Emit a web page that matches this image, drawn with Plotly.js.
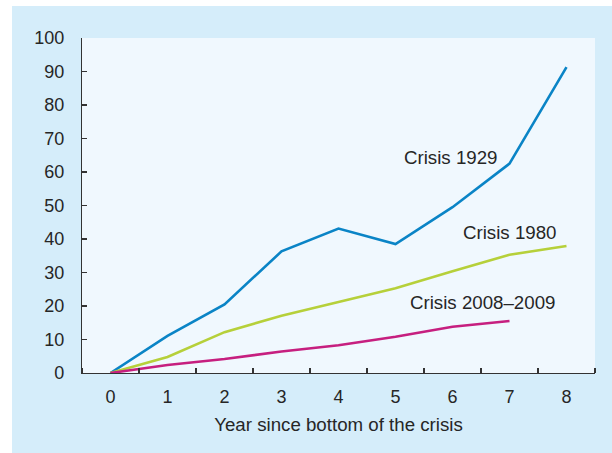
<!DOCTYPE html>
<html>
<head>
<meta charset="utf-8">
<script src="https://cdn.plot.ly/plotly-3.0.1.min.js"></script>
<style>html,body{margin:0;padding:0;background:#fff;}#chart{width:612px;height:453px;}</style>
</head>
<body>
<div id="chart"></div>
<script>
var years = [0, 1, 2, 3, 4, 5, 6, 7, 8];
var crisis1929 = [0, 11.1, 20.5, 36.3, 43.1, 38.5, 49.5, 62.5, 91.3];
var crisis1980 = [0, 4.8, 12.2, 17.1, 21.2, 25.3, 30.4, 35.3, 37.9];
var crisis2008 = [0, 2.4, 4.2, 6.4, 8.3, 10.8, 13.8, 15.5];
var seriesNames = ["Crisis 1929", "Crisis 1980", "Crisis 2008\u20132009"];
var xTitle = "Year since bottom of the crisis";

var colors = ["#0a84c6", "#b6d03a", "#c61f7f"];
var font = "Liberation Sans, Arial, sans-serif";
var textColor = "#262626";

var traces = [
  {x: years, y: crisis1929, name: seriesNames[0], mode: "lines", line: {color: colors[0], width: 2.6}},
  {x: years, y: crisis1980, name: seriesNames[1], mode: "lines", line: {color: colors[1], width: 2.6}},
  {x: years.slice(0, crisis2008.length), y: crisis2008, name: seriesNames[2], mode: "lines", line: {color: colors[2], width: 2.6}}
];

var L = 82, R = 17, T = 38, B = 80, W = 612, H = 453;
var pw = W - L - R, ph = H - T - B;
function px2x(p) { return (p - L) / pw; }
function py2y(p) { return (H - B - p) / ph; }

var layout = {
  width: W, height: H,
  margin: {l: L, r: R, t: T, b: B, pad: 0},
  paper_bgcolor: "#d5edfa",
  plot_bgcolor: "#f0f8fe",
  showlegend: false,
  font: {family: font, size: 18, color: textColor},
  xaxis: {
    range: [-0.5, 8.5],
    tickvals: years,
    ticktext: years.map(String),
    ticks: "",
    showgrid: false,
    zeroline: false,
    showline: true,
    linecolor: "#333",
    linewidth: 1.2,
    ticklabelstandoff: 7,
    tickfont: {size: 18, color: textColor},
    minor: {tick0: 0.5, dtick: 1, ticks: "inside", ticklen: 5, tickcolor: "#333", tickwidth: 1.2, showgrid: false},
    title: {text: xTitle, font: {size: 18.7, color: textColor}, standoff: 12}
  },
  yaxis: {
    range: [0, 100],
    dtick: 10,
    ticks: "inside",
    ticklen: 5,
    tickcolor: "#333",
    tickwidth: 1.2,
    showgrid: false,
    zeroline: false,
    showline: true,
    linecolor: "#333",
    linewidth: 1.2,
    ticklabelstandoff: 13,
    tickfont: {size: 18, color: textColor}
  },
  shapes: [
    {type: "rect", xref: "paper", yref: "paper", x0: px2x(-5), x1: px2x(12), y0: py2y(H + 5), y1: py2y(-5), fillcolor: "#ffffff", line: {width: 0}},
    {type: "rect", xref: "paper", yref: "paper", x0: px2x(-5), x1: px2x(W + 5), y0: py2y(6), y1: py2y(-5), fillcolor: "#ffffff", line: {width: 0}}
  ],
  annotations: [
    {x: 5.96, y: 64.2, xref: "x", yref: "y", text: seriesNames[0], showarrow: false, xanchor: "center", yanchor: "middle", font: {size: 18.7, color: textColor}},
    {x: 7.0, y: 41.8, xref: "x", yref: "y", text: seriesNames[1], showarrow: false, xanchor: "center", yanchor: "middle", font: {size: 18.7, color: textColor}},
    {x: 6.52, y: 20.9, xref: "x", yref: "y", text: seriesNames[2], showarrow: false, xanchor: "center", yanchor: "middle", font: {size: 18.7, color: textColor}}
  ]
};

Plotly.newPlot("chart", traces, layout, {displayModeBar: false, staticPlot: true});
</script>
</body>
</html>
